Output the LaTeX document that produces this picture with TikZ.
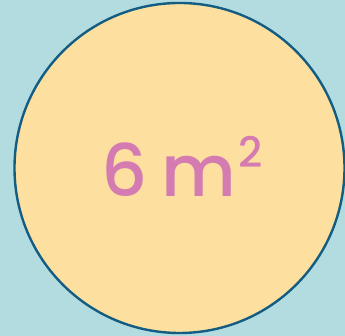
\documentclass[tikz,border=0pt]{standalone}
\usepackage{fontspec}
\newfontfamily\areafont{Poppins}[UprightFont=* Medium]
\definecolor{bgblue}{HTML}{B2DCE0}
\definecolor{discfill}{HTML}{FDE0A0}
\definecolor{discline}{HTML}{135C82}
\definecolor{areapink}{HTML}{D47BB2}
\begin{document}
\begin{tikzpicture}[x=1pt, y=1pt]
		\tikzstyle{disc}=[draw=discline, fill=discfill, line width=2.4pt, shape=circle, minimum size=330pt, inner sep=0pt]
		\tikzstyle{area}=[text=areapink, font=\areafont\fontsize{72}{72}\selectfont]

    % Background
		\fill[bgblue] (0,0) rectangle (345,336);
		\useasboundingbox (0,0) rectangle (345,336);

    % Circle
		\node[disc](c) at (179.5,168){};

    % Area label
		\node[area](a) at (182,170){6\hspace{-0.06em} m\hspace{0.03em}\raisebox{0.4em}{\fontsize{42}{42}\selectfont 2}};
  \end{tikzpicture}
\end{document}
